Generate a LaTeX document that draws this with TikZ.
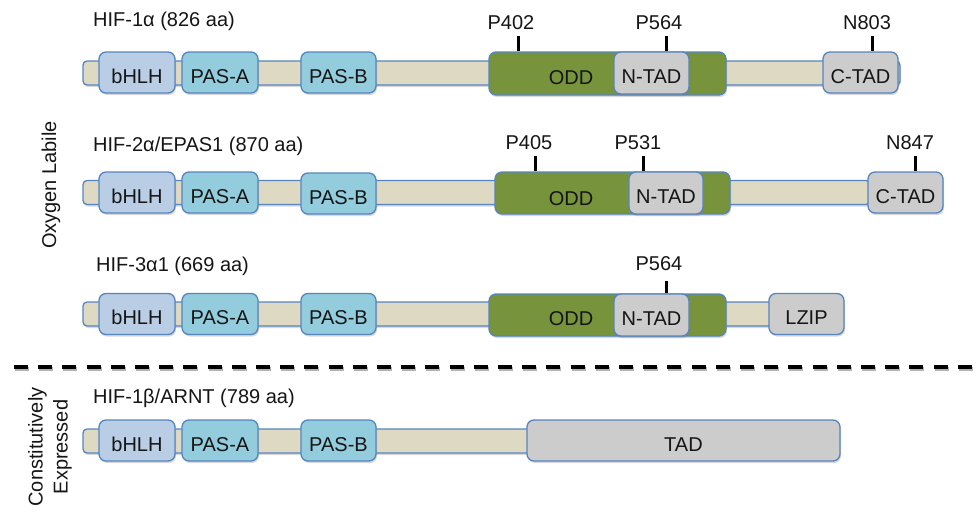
\documentclass[tikz,border=0pt]{standalone}
\usepackage{fontspec}
\setmainfont{Liberation Sans}
\usetikzlibrary{shadows}
\definecolor{bbfill}{HTML}{DDD9C3}
\definecolor{edgec}{HTML}{5685C0}
\definecolor{bhlhc}{HTML}{B9CDE5}
\definecolor{pasc}{HTML}{93CDDD}
\definecolor{oddc}{HTML}{77933C}
\definecolor{tadc}{HTML}{CCCCCC}
\definecolor{ink}{HTML}{151515}
\begin{document}
\begin{tikzpicture}[x=1pt,y=-1pt,
  every node/.style={font=\fontsize{20}{24}\selectfont, text=ink},
  shad/.style={drop shadow={opacity=0.3, shadow xshift=1pt, shadow yshift=-2pt}},
  bb/.style={draw=edgec, fill=bbfill, line width=1.3pt, rounded corners=4pt,
    minimum height=24pt, inner sep=0pt, shad},
  dom/.style={draw=edgec, line width=1.3pt, rounded corners=7pt, minimum height=41pt,
    inner sep=0pt, text height=21pt, text depth=0pt, shad},
  bhlh/.style={dom, fill=bhlhc, minimum width=76pt},
  pas/.style={dom, fill=pasc},
  oddbox/.style={dom, fill=oddc, minimum height=42pt},
  graybox/.style={dom, fill=tadc},
  dtext/.style={inner sep=0pt, text height=21pt, text depth=0pt},
  title/.style={anchor=base west, inner sep=0pt},
  site/.style={anchor=base, inner sep=0pt},
  tick/.style={line width=3pt, black},
  sep/.style={line width=4pt, black, dash pattern=on 14pt off 10.2pt}
]
\useasboundingbox (0,0) rectangle (978,514);

% side labels
\node[rotate=90] (oxy) at (51,185) {Oxygen Labile};
\node[rotate=90, align=center, font=\fontsize{20}{25}\selectfont] (cons) at (50,447) {Constitutively\\Expressed};

% ---------- Row 1: HIF-1alpha ----------
\node[title] (t1) at (93,27) {HIF-1α (826 aa)};
\node[bb, minimum width=817pt] (bb1) at (491.5,73) {};
\node[bhlh] (bhlh1) at (137,72.5) {bHLH};
\node[pas, minimum width=76pt] (pasa1) at (220,72.5) {PAS-A};
\node[pas, minimum width=75pt] (pasb1) at (338.5,72.5) {PAS-B};
\node[oddbox, minimum width=237pt, minimum height=43pt] (odd1) at (607.5,73.5) {};
\node[dtext] (oddt1) at (571,73.5) {ODD};
\node[graybox, minimum width=75pt, minimum height=42pt] (ntad1) at (651.5,73) {N-TAD};
\node[graybox, minimum width=75pt] (ctad1) at (860.5,72.5) {C-TAD};
\node[site] (s11) at (511,29) {P402};
\node[site] (s12) at (659,29) {P564};
\node[site] (s13) at (867,29) {N803};
\coordinate (k11) at (518,36);
\coordinate (k12) at (666,36);
\coordinate (k13) at (872,36);
\draw[tick] (k11) -- (k11 |- odd1.north);
\draw[tick] (k12) -- (k12 |- ntad1.north);
\draw[tick] (k13) -- (k13 |- ctad1.north);

% ---------- Row 2: HIF-2alpha ----------
\node[title] (t2) at (93,151) {HIF-2α/EPAS1 (870 aa)};
\node[bb, minimum width=787pt] (bb2) at (476.5,192.5) {};
\node[bhlh] (bhlh2) at (137,192.5) {bHLH};
\node[pas, minimum width=76pt] (pasa2) at (220,192.5) {PAS-A};
\node[pas, minimum width=75pt] (pasb2) at (338.5,193.5) {PAS-B};
\node[oddbox, minimum width=235pt] (odd2) at (612.5,193) {};
\node[dtext] (oddt2) at (571,195) {ODD};
\node[graybox, minimum width=74pt, minimum height=42pt] (ntad2) at (666,193) {N-TAD};
\node[graybox, minimum width=75pt] (ctad2) at (905.5,192.5) {C-TAD};
\node[site] (s21) at (529,149) {P405};
\node[site] (s22) at (638,149) {P531};
\node[site] (s23) at (910,149) {N847};
\coordinate (k21) at (535,156);
\coordinate (k22) at (643,156);
\coordinate (k23) at (915,156);
\draw[tick] (k21) -- (k21 |- odd2.north);
\draw[tick] (k22) -- (k22 |- ntad2.north);
\draw[tick] (k23) -- (k23 |- ctad2.north);

% ---------- Row 3: HIF-3alpha1 ----------
\node[title] (t3) at (96,271) {HIF-3α1 (669 aa)};
\node[bb, minimum width=697pt] (bb3) at (431.5,314) {};
\node[bhlh] (bhlh3) at (137,314) {bHLH};
\node[pas, minimum width=76pt] (pasa3) at (220,314) {PAS-A};
\node[pas, minimum width=75pt] (pasb3) at (338.5,314) {PAS-B};
\node[oddbox, minimum width=237pt] (odd3) at (607.5,315) {};
\node[dtext] (oddt3) at (571,315) {ODD};
\node[graybox, minimum width=75pt, minimum height=42pt] (ntad3) at (651.5,315) {N-TAD};
\node[graybox, minimum width=75pt] (lzip3) at (806.5,314) {LZIP};
\node[site] (s31) at (659,270) {P564};
\coordinate (k31) at (666,281);
\draw[tick] (k31) -- (k31 |- ntad3.north);

% ---------- separator ----------
\coordinate (dl) at (14,367);
\coordinate (dr) at (973,367);
\draw[sep, draw=black!30, transform canvas={xshift=1pt, yshift=-2pt}] (dl) -- (dr);
\draw[sep] (dl) -- (dr);

% ---------- Row 4: HIF-1beta ----------
\node[title] (t4) at (93,403) {HIF-1β/ARNT (789 aa)};
\node[bb, minimum width=457pt] (bb4) at (311.5,441) {};
\node[bhlh] (bhlh4) at (137,440.5) {bHLH};
\node[pas, minimum width=76pt] (pasa4) at (220,440.5) {PAS-A};
\node[pas, minimum width=75pt] (pasb4) at (338.5,440.5) {PAS-B};
\node[graybox, minimum width=313pt] (tad4) at (683.5,440.5) {TAD};
\end{tikzpicture}
\end{document}
